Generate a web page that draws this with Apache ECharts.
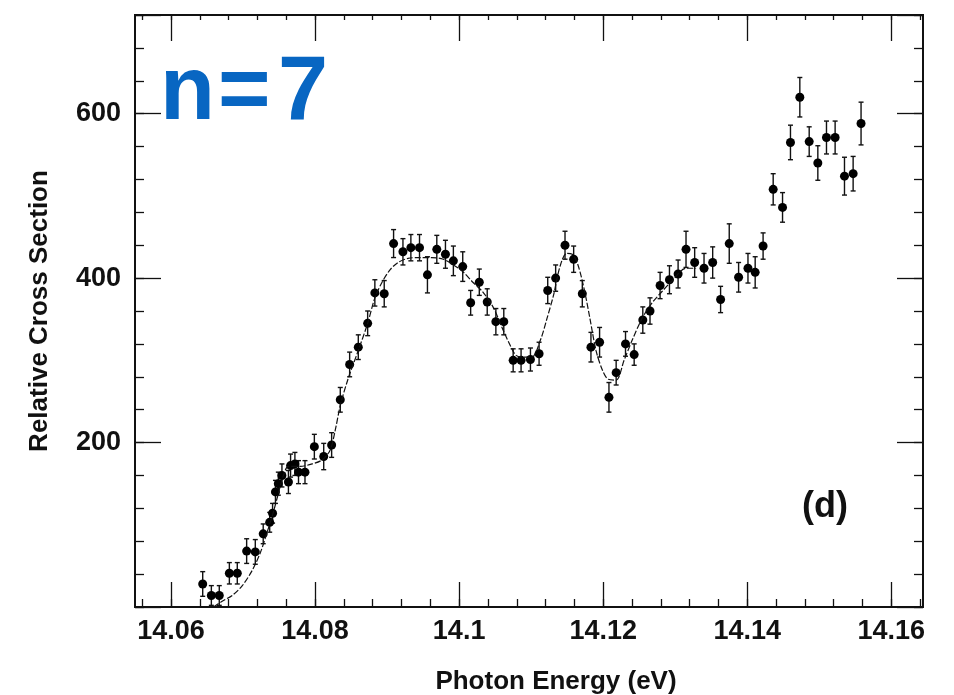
<!DOCTYPE html>
<html>
<head>
<meta charset="utf-8">
<script src="https://cdn.jsdelivr.net/npm/echarts@6/dist/echarts.min.js"></script>
<style>
  html, body { margin: 0; padding: 0; background: #fff; }
  #chart { width: 954px; height: 695px; }
</style>
</head>
<body>
<div id="chart"></div>
<script>
// measured points (photon energy in eV, relative cross section, half error bar)
const energy = [
  14.0644, 14.0656, 14.0667, 14.0681, 14.0692, 14.0705, 14.0717, 14.0728, 14.0737, 14.0741,
  14.0745, 14.0749, 14.0754, 14.0763, 14.0766, 14.0772, 14.0777, 14.0786, 14.0799, 14.0812,
  14.0823, 14.0835, 14.0848, 14.0860, 14.0873, 14.0883, 14.0896, 14.0909, 14.0922, 14.0933,
  14.0945, 14.0956, 14.0969, 14.0981, 14.0992, 14.1005, 14.1016, 14.1028, 14.1039, 14.1051,
  14.1062, 14.1075, 14.1086, 14.1099, 14.1111, 14.1123, 14.1134, 14.1147, 14.1159, 14.1171,
  14.1183, 14.1195, 14.1208, 14.1218, 14.1231, 14.1243, 14.1255, 14.1265, 14.1279, 14.1292,
  14.1304, 14.1315, 14.1327, 14.1340, 14.1352, 14.1363, 14.1375, 14.1388, 14.1401, 14.1411,
  14.1422, 14.1436, 14.1449, 14.1460, 14.1473, 14.1486, 14.1498, 14.1510, 14.1522, 14.1535,
  14.1547, 14.1558
];
const crossSection = [
  28, 14, 14, 41, 41, 68, 67, 89, 103, 114,
  140, 150, 160, 152, 172, 174, 164, 164, 195, 183,
  197, 252, 295, 316, 345, 382, 381, 442, 432, 437,
  437, 404, 435, 429, 421, 414, 370, 395, 371, 347,
  347, 300, 300, 301, 308, 385, 400, 440, 423, 381,
  316, 322, 255, 285, 320, 307, 349, 360, 391, 398,
  405, 435, 419, 412, 419, 374, 442, 401, 412, 407,
  439, 508, 486, 565, 620, 566, 540, 571, 571, 524,
  527, 588
];
const errorBar = [
  15, 12, 12, 13, 13, 15, 15, 12, 12, 12,
  14, 14, 14, 14, 14, 14, 14, 14, 15, 16,
  15, 15, 15, 15, 15, 16, 16, 17, 16, 16,
  16, 22, 17, 17, 18, 18, 15, 16, 16, 16,
  16, 14, 14, 14, 14, 16, 16, 17, 16, 16,
  18, 18, 18, 15, 15, 13, 16, 16, 16, 17,
  17, 22, 18, 18, 19, 16, 24, 18, 18, 19,
  16, 19, 18, 21, 24, 18, 21, 20, 20, 23,
  21, 26
];

// fitted curve
const fitEnergy = [
  14.0659, 14.0671, 14.0685, 14.0699, 14.0713, 14.0724, 14.0732, 14.0741, 14.0749, 14.0756,
  14.0763, 14.0779, 14.0796, 14.0810, 14.0821, 14.0828, 14.0835, 14.0846, 14.0860, 14.0873,
  14.0883, 14.0893, 14.0904, 14.0915, 14.0929, 14.0946, 14.0962, 14.0978, 14.0992, 14.1005,
  14.1019, 14.1033, 14.1047, 14.1061, 14.1071, 14.1079, 14.1090, 14.1101, 14.1113, 14.1122,
  14.1131, 14.1140, 14.1149, 14.1157, 14.1165, 14.1174, 14.1182, 14.1190, 14.1199, 14.1207,
  14.1218, 14.1229, 14.1240, 14.1254, 14.1268, 14.1282, 14.1296, 14.1315, 14.1329
];
const fitValue = [
  0, 7, 14, 26, 45, 66, 87, 112, 138, 160,
  171, 171, 174, 179, 191, 215, 245, 278, 312, 345,
  376, 395, 410, 419, 424, 425, 425, 423, 416, 408,
  395, 383, 365, 337, 318, 306, 304, 304, 325, 351,
  379, 414, 430, 429, 416, 385, 349, 312, 288, 277,
  276, 300, 324, 351, 370, 384, 397, 412, 412
];

const xTickLabels = [14.06, 14.08, 14.1, 14.12, 14.14, 14.16];
const yTickLabels = [200, 400, 600];

const xMin = 14.055, xMax = 14.1644;
const yMin = 0, yMax = 720;

const chart = echarts.init(document.getElementById('chart'));

const gridLeft = 135, gridRight = 31, gridTop = 15, gridBottom = 88;
const plotW = 954 - gridLeft - gridRight;
const pxPerEv = plotW / (xMax - xMin);
// extra grids only carry the tick marks, aligned with the main x scale
const subGrid = (lo, hi) => ({
  left: gridLeft + (lo - xMin) * pxPerEv,
  right: gridRight + (xMax - hi) * pxPerEv,
  top: gridTop, bottom: gridBottom,
  containLabel: false, outerBoundsMode: 'none'
});

const font = 'Liberation Sans, Arial, sans-serif';
const ink = '#111';
const blue = '#0866c2';

const tickAxis = (gridIndex, position, lo, hi, step, len, labels) => ({
  type: 'value', gridIndex, position, min: lo, max: hi, interval: step,
  axisLine: { show: false },
  axisTick: { show: true, inside: true, length: len, lineStyle: { color: ink, width: 1.3 } },
  axisLabel: labels ? {
    show: true, margin: 11, color: ink, fontSize: 27, fontWeight: 'bold', fontFamily: font,
    formatter: v => xTickLabels.some(t => Math.abs(t - v) < 1e-6) ? String(+v.toFixed(2)) : ''
  } : { show: false },
  splitLine: { show: false }
});

const yTickAxis = (position, step, len, labels) => ({
  type: 'value', gridIndex: 0, position, min: yMin, max: yMax, interval: step,
  axisLine: { show: false, onZero: false },
  axisTick: { show: true, inside: true, length: len, lineStyle: { color: ink, width: 1.3 } },
  axisLabel: labels ? {
    show: true, margin: 14, color: ink, fontSize: 27, fontWeight: 'bold', fontFamily: font,
    formatter: v => yTickLabels.indexOf(v) >= 0 ? String(v) : ''
  } : { show: false },
  splitLine: { show: false }
});

const option = {
  animation: false,
  backgroundColor: '#fff',
  grid: [
    { left: gridLeft, right: gridRight, top: gridTop, bottom: gridBottom, show: true,
      containLabel: false, outerBoundsMode: 'none',
      borderColor: ink, borderWidth: 2, backgroundColor: 'transparent' },
    subGrid(14.056, 14.164),
    subGrid(14.06, 14.16)
  ],
  xAxis: [
    { type: 'value', gridIndex: 0, position: 'bottom', min: xMin, max: xMax,
      name: 'Photon Energy (eV)', nameLocation: 'middle', nameGap: 62,
      nameTextStyle: { color: ink, fontSize: 26, fontWeight: 'bold', fontFamily: font, padding: [0, 0, 0, 54] },
      axisLine: { show: false, onZero: false }, axisTick: { show: false },
      axisLabel: { show: false }, splitLine: { show: false } },
    tickAxis(1, 'bottom', 14.056, 14.164, 0.004, 8, false),
    tickAxis(1, 'top', 14.056, 14.164, 0.004, 5, false),
    tickAxis(2, 'bottom', 14.06, 14.16, 0.02, 25, true),
    tickAxis(2, 'top', 14.06, 14.16, 0.02, 26, false)
  ],
  yAxis: [
    Object.assign(yTickAxis('left', 200, 26, true), {
      name: 'Relative Cross Section', nameLocation: 'middle', nameGap: 82, nameRotate: 90,
      nameTextStyle: { color: ink, fontSize: 26, fontWeight: 'bold', fontFamily: font }
    }),
    yTickAxis('right', 200, 26, false),
    yTickAxis('left', 40, 9, false),
    yTickAxis('right', 40, 9, false),
    { type: 'value', gridIndex: 1, min: yMin, max: yMax, show: false },
    { type: 'value', gridIndex: 2, min: yMin, max: yMax, show: false }
  ],
  series: [
    {
      type: 'line', name: 'fit', xAxisIndex: 0, yAxisIndex: 0,
      data: fitEnergy.map((e, i) => [e, fitValue[i]]),
      showSymbol: false, smooth: 0.3, silent: true,
      lineStyle: { color: ink, width: 1.2, type: [6, 2] }
    },
    {
      type: 'custom', name: 'error', xAxisIndex: 0, yAxisIndex: 0,
      data: energy.map((e, i) => [e, crossSection[i] - errorBar[i], crossSection[i] + errorBar[i]]),
      encode: { x: 0, y: [1, 2] },
      renderItem: (params, api) => {
        const x = api.value(0);
        const lo = api.coord([x, api.value(1)]);
        const hi = api.coord([x, api.value(2)]);
        const w = 2.5;
        const st = { stroke: ink, lineWidth: 1.4 };
        return {
          type: 'group',
          children: [
            { type: 'line', shape: { x1: lo[0], y1: lo[1], x2: hi[0], y2: hi[1] }, style: st },
            { type: 'line', shape: { x1: lo[0] - w, y1: lo[1], x2: lo[0] + w, y2: lo[1] }, style: st },
            { type: 'line', shape: { x1: hi[0] - w, y1: hi[1], x2: hi[0] + w, y2: hi[1] }, style: st }
          ]
        };
      }
    },
    {
      type: 'scatter', name: 'data', xAxisIndex: 0, yAxisIndex: 0,
      data: energy.map((e, i) => [e, crossSection[i]]),
      symbol: 'circle', symbolSize: 9,
      itemStyle: { color: '#000', opacity: 1 }
    }
  ],
  graphic: [
    { type: 'text', left: 160, top: 49, style: { text: 'n', fill: blue, font: 'bold 90px ' + font } },
    { type: 'text', left: 218, top: 49, style: { text: '=', fill: blue, font: 'bold 90px ' + font } },
    { type: 'text', left: 278, top: 49, style: { text: '7', fill: blue, font: 'bold 90px ' + font } },
    { type: 'text', left: 802, top: 489, style: { text: '(d)', fill: ink, font: 'bold 36px ' + font } }
  ]
};

chart.setOption(option);
</script>
</body>
</html>
